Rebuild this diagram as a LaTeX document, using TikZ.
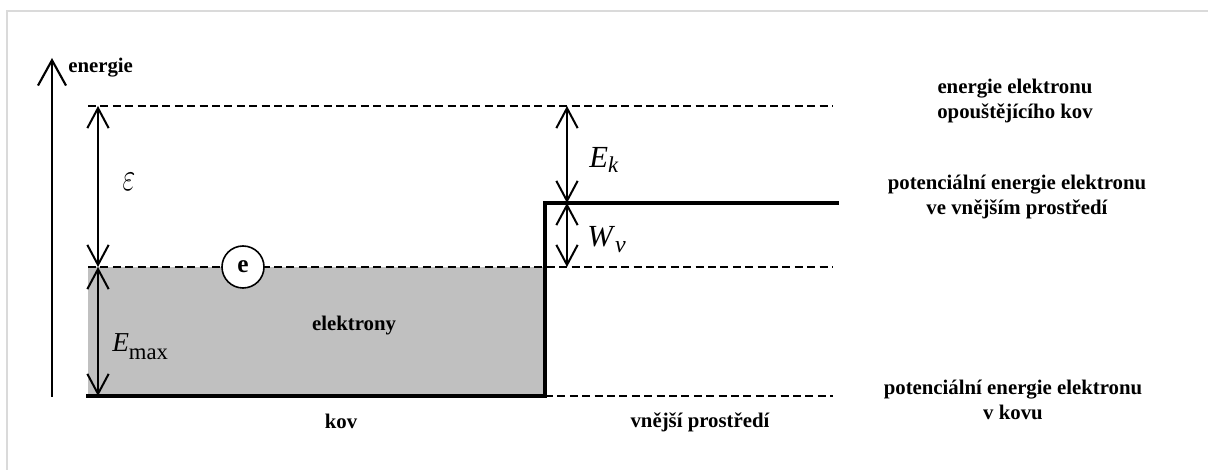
\documentclass[tikz,border=0pt]{standalone}
\usepackage{fontspec}
\setmainfont{Liberation Serif}
\usetikzlibrary{arrows.meta}
\definecolor{fillgray}{RGB}{192,192,192}
\definecolor{framegray}{RGB}{218,218,218}
\begin{document}
\begin{tikzpicture}[x=0.75pt,y=-0.75pt,
  lbl/.style={font=\bfseries\fontsize{15.6pt}{19pt}\selectfont, align=center, inner sep=0pt},
  dline/.style={line width=1.2pt, dash pattern=on 6pt off 3.3pt},
  stepline/.style={line width=3pt, line join=miter, line cap=rect},
  barb/.tip={Straight Barb[length=15pt,width=16pt,line width=1.5pt]},
  dim/.style={line width=1.5pt, {barb}-{barb}},
  axis/.style={line width=1.6pt, -{Straight Barb[length=19pt,width=21pt,line width=1.6pt]}},
  mlbl/.style={inner sep=0pt},
  framed/.style={draw=framegray, line width=1.3pt}
]
\useasboundingbox (0,0) rectangle (1208,470);
\draw[framed] (7,470) -- (7,11) -- (1208,11);

% levels
\coordinate (topL) at (88,106);
\coordinate (topR) at (833,106);
\coordinate (fermiL) at (88,267);
\coordinate (fermiR) at (833,267);
\coordinate (baseL) at (88,396);
\coordinate (stepB) at (545,396);
\coordinate (stepT) at (545,203);
\coordinate (vacR) at (837,203);
\coordinate (baseR) at (833,396);

\fill[fillgray] (fermiL) rectangle (stepB);
\draw[dline] (topL) -- (topR);
\draw[dline] (fermiL) -- (fermiR);
\draw[dline] (stepB) -- (baseR);
\draw[stepline] (baseL) -- (stepB) -- (stepT) -- (vacR);

% energy axis
\coordinate (axB) at (52,397);
\coordinate (axT) at (52,58);
\draw[axis] (axB) -- (axT);
\node[lbl, anchor=base west] (en) at (68,73) {energie};

% dimension arrows
\coordinate (epsT) at (98,106);
\coordinate (epsB) at (98,267);
\coordinate (emB) at (98,396);
\coordinate (ekT) at (567,106);
\coordinate (ekB) at (567,203);
\coordinate (wvB) at (567,267);
\draw[dim] (epsT) -- (epsB);
\draw[dim] (epsB) -- (emB);
\draw[dim] (ekT) -- (ekB);
\draw[dim] (ekB) -- (wvB);

% math labels
\node[mlbl] (eps) at (129,182) {\fontsize{22pt}{26pt}\selectfont\scalebox{1}[1.45]{$\varepsilon$}};
\node[mlbl, anchor=base west] (emax) at (112,352) {\fontsize{20.5pt}{24pt}\selectfont\textit{E}\raisebox{-5.3pt}{\fontsize{17pt}{20pt}\selectfont max}};
\node[mlbl, anchor=base west] (ek) at (589,168) {\fontsize{23pt}{26pt}\selectfont\textit{E}\raisebox{-3.5pt}{\fontsize{17pt}{20pt}\selectfont\textit{k}}};
\node[mlbl, anchor=base west] (wv) at (587,247) {\fontsize{23pt}{26pt}\selectfont\textit{W}\raisebox{-4.5pt}{\fontsize{18pt}{20pt}\selectfont\textit{v}}};

% electron
\node[circle, draw, fill=white, line width=1.2pt, minimum size=31.5pt, inner sep=0pt,
      font=\bfseries\fontsize{19pt}{22pt}\selectfont] (el) at (243,267) {e};

% region labels
\node[lbl, anchor=base] (elk) at (354,331) {elektrony};
\node[lbl, anchor=base] (kov) at (341,429) {kov};
\node[lbl, anchor=base] (vp) at (700,428) {vnější prostředí};

% right labels
\node[lbl] (l1) at (1015,101) {energie elektronu\\opouštějícího kov};
\node[lbl] (l2) at (1017,197) {potenciální energie elektronu\\ve vnějším prostředí};
\node[lbl] (l3) at (1013,400) {potenciální energie elektronu\\v kovu};
\end{tikzpicture}
\end{document}
